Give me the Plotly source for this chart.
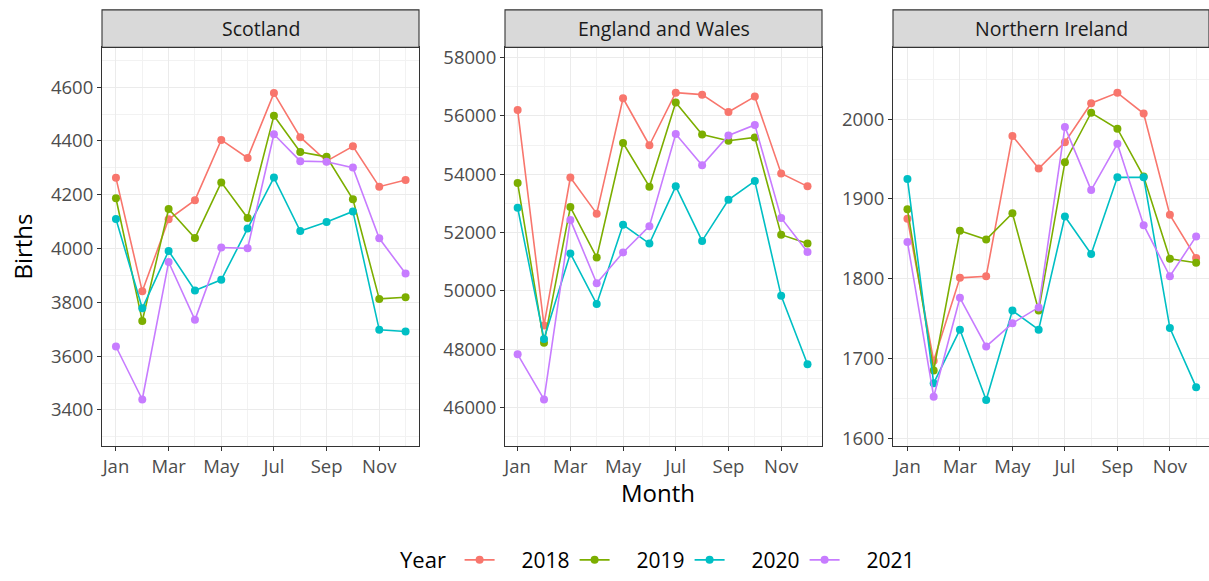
import plotly.graph_objects as go

months = list(range(1, 13))
month_ticks = [1, 3, 5, 7, 9, 11]
month_labels = ["Jan", "Mar", "May", "Jul", "Sep", "Nov"]
years = ["2018", "2019", "2020", "2021"]
colors = ["#F8766D", "#7CAE00", "#00BFC4", "#C77CFF"]
regions = ["Scotland", "England and Wales", "Northern Ireland"]

scotland_2018 = [4263, 3841, 4109, 4180, 4404, 4337, 4578, 4414, 4325, 4380, 4230, 4255]
scotland_2019 = [4187, 3731, 4147, 4039, 4246, 4114, 4494, 4359, 4341, 4183, 3813, 3819]
scotland_2020 = [4110, 3778, 3991, 3844, 3884, 4075, 4264, 4065, 4099, 4138, 3698, 3692]
scotland_2021 = [3636, 3439, 3950, 3735, 4004, 4001, 4425, 4325, 4323, 4301, 4038, 3907]

ew_2018 = [56197, 48817, 53887, 52648, 56603, 54992, 56794, 56727, 56130, 56659, 54023, 53583]
ew_2019 = [53696, 48220, 52873, 51149, 55070, 53572, 56456, 55363, 55149, 55262, 51927, 51623]
ew_2020 = [52851, 48355, 51285, 49549, 52265, 51623, 53583, 51713, 53121, 53763, 49831, 47487]
ew_2021 = [47825, 46282, 52434, 50259, 51318, 52220, 55375, 54304, 55330, 55690, 52501, 51330]

ni_2018 = [1875, 1697, 1801, 1803, 1979, 1938, 1971, 2020, 2033, 2007, 1880, 1826]
ni_2019 = [1887, 1685, 1860, 1849, 1882, 1760, 1946, 2008, 1988, 1928, 1825, 1820]
ni_2020 = [1925, 1669, 1736, 1648, 1760, 1736, 1878, 1831, 1927, 1927, 1738, 1664]
ni_2021 = [1846, 1652, 1776, 1715, 1744, 1764, 1990, 1911, 1969, 1867, 1803, 1853]

data = {
    "Scotland": [scotland_2018, scotland_2019, scotland_2020, scotland_2021],
    "England and Wales": [ew_2018, ew_2019, ew_2020, ew_2021],
    "Northern Ireland": [ni_2018, ni_2019, ni_2020, ni_2021],
}

W, H = 1209, 581
x_px = [(102, 419), (505, 822), (893, 1209)]
y_top, y_bot = 48, 452
y_ranges = [(3267, 4748), (44692, 58348), (1590.5, 2090)]
y_ticks = [list(range(3400, 4601, 200)), list(range(46000, 58001, 2000)), list(range(1600, 2001, 100))]
y_minor = [100, 1000, 50]
x_ranges = [(0.47, 12.51), (0.52, 12.55), (0.45, 12.49)]

FONT = "Open Sans"
NB = "\u00a0"
fig = go.Figure()

for i, reg in enumerate(regions):
    ax = "" if i == 0 else str(i + 1)
    for j, yr in enumerate(years):
        fig.add_trace(go.Scatter(
            x=months, y=data[reg][j], mode="lines+markers",
            name=NB * 4 + yr, legendgroup=yr, showlegend=(i == 0),
            line=dict(color=colors[j], width=1.6),
            marker=dict(color=colors[j], size=8),
            xaxis="x" + ax, yaxis="y" + ax,
        ))
    xd = [x_px[i][0] / W, x_px[i][1] / W]
    yd = [1 - y_bot / H, 1 - y_top / H]
    common = dict(
        showline=True, linecolor="#333333", linewidth=1.1, mirror=True,
        showgrid=True, gridcolor="#EBEBEB", gridwidth=1.1,
        zeroline=False, ticks="outside", ticklen=4, tickcolor="#333333", tickwidth=1.1,
        tickfont=dict(family=FONT, size=18.5, color="#4D4D4D"),
        automargin=False,
    )
    fig.layout["xaxis" + ax] = dict(
        domain=xd, range=list(x_ranges[i]), anchor="y" + ax,
        tickvals=month_ticks, ticktext=month_labels,
        minor=dict(dtick=1, tick0=0, showgrid=True, gridcolor="#F2F2F2", gridwidth=0.6, ticks=""),
        **common)
    fig.layout["yaxis" + ax] = dict(
        domain=yd, range=list(y_ranges[i]), anchor="x" + ax,
        tickvals=y_ticks[i], tickformat="d",
        minor=dict(dtick=y_minor[i], tick0=0, showgrid=True, gridcolor="#F2F2F2", gridwidth=0.6, ticks=""),
        **common)
    # facet strip
    fig.add_shape(type="rect", xref="paper", yref="paper",
                  x0=xd[0], x1=xd[1], y0=1 - y_top / H, y1=1 - 10 / H,
                  fillcolor="#D9D9D9", line=dict(color="#333333", width=1.1), layer="above")
    fig.add_annotation(text=reg, xref="paper", yref="paper",
                       x=(xd[0] + xd[1]) / 2, y=1 - 29 / H, showarrow=False,
                       xanchor="center", yanchor="middle",
                       font=dict(family=FONT, size=19.5, color="#1A1A1A"))

fig.add_annotation(text="Births", xref="paper", yref="paper", x=23 / W, y=1 - 250 / H,
                   textangle=-90, showarrow=False, xanchor="center", yanchor="middle",
                   font=dict(family=FONT, size=24, color="#000000"))
fig.add_annotation(text="Month", xref="paper", yref="paper", x=658 / W, y=1 - 499 / H,
                   showarrow=False, xanchor="center", yanchor="middle",
                   font=dict(family=FONT, size=24, color="#000000"))

fig.update_layout(
    width=W, height=H,
    margin=dict(l=0, r=0, t=0, b=0),
    paper_bgcolor="white", plot_bgcolor="white",
    showlegend=True,
    legend=dict(orientation="h", x=398 / W, xanchor="left", y=1 - 568 / H, yanchor="middle",
                title=dict(text="Year ", font=dict(family=FONT, size=22, color="#000000")),
                font=dict(family=FONT, size=21, color="#000000"),
                bgcolor="rgba(0,0,0,0)", entrywidth=70, entrywidthmode="pixels"),
)

fig.write_html("out.html")
